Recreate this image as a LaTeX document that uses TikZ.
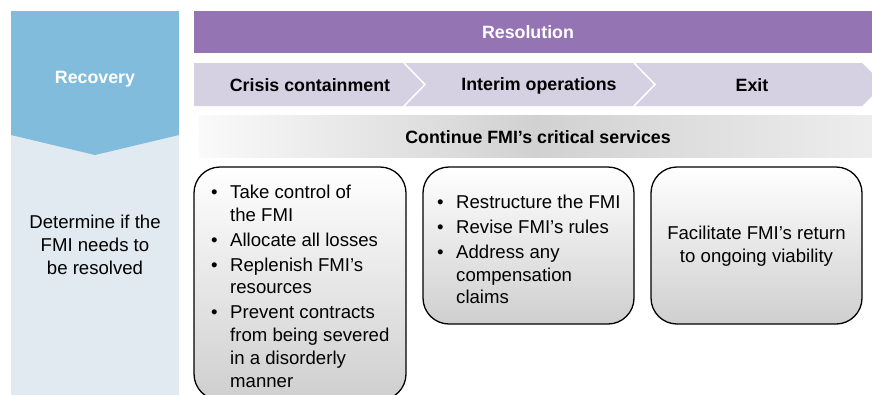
\documentclass[tikz,border=0pt]{standalone}
\usepackage{fontspec}
\setmainfont{Liberation Sans}
\definecolor{recblue}{HTML}{82BCDC}
\definecolor{reclight}{HTML}{E1EAF1}
\definecolor{respurple}{HTML}{9574B3}
\definecolor{chevfill}{HTML}{D5D1E3}
\newcommand\bitem[1]{\makebox[19pt][l]{•}#1}
\newcommand\bcont[1]{\hspace*{19pt}#1}
\begin{document}
\begin{tikzpicture}[x=1pt,y=-1pt,
  hdr/.style={font=\bfseries\fontsize{17.8}{21}\selectfont, inner sep=0pt},
  body/.style={font=\fontsize{18.6}{22.8}\selectfont, inner sep=0pt},
  rbox/.style={draw=black, line width=1.3pt, rounded corners=26pt, top color=white, bottom color=gray!38, inner sep=0pt},
  divider/.style={draw=white, line width=1.5pt}]
\useasboundingbox (0,0) rectangle (872,394);
\clip (0,0) rectangle (872,394);
% Recovery column
\fill[reclight] (11,130) rectangle (179,400);
\fill[recblue] (11,11) -- (179,11) -- (179,135) -- (95,155) -- (11,135) -- cycle;
\node[hdr, text=white] (rec) at (95,79) {Recovery};
\node[body, align=center] (det) at (95,245) {Determine if the\\FMI needs to\\be resolved};
% Resolution bar
\fill[respurple] (194,11) rectangle (880,53);
\node[hdr, text=white] (res) at (528,32) {Resolution};
% Chevron bar
\fill[chevfill] (194,63) -- (862,63) -- (883.5,84.5) -- (862,106) -- (194,106) -- cycle;
\draw[divider] (404,63) -- (425,84.5) -- (404,106);
\draw[divider] (634,63) -- (655,84.5) -- (634,106);
\node[hdr] (cc) at (310,85.5) {Crisis containment};
\node[hdr] (io) at (539,85.5) {Interim operations};
\node[hdr] (ex) at (752,85.5) {Exit};
% Continue bar
\shade[left color=gray!4, right color=gray!14, middle color=gray!36] (199,115) rectangle (872,157);
\node[hdr] (cont) at (538,137) {Continue FMI’s critical services};
% Boxes
\node[rbox, minimum width=212pt, minimum height=233pt] (b1) at (300,283.5) {};
\node[rbox, minimum width=211pt, minimum height=157pt] (b2) at (528.5,245.5) {};
\node[rbox, minimum width=211pt, minimum height=157pt] (b3) at (756.5,245.5) {};
\node[body, align=left, anchor=north west] (t1) at (211,185) {%
\bitem{Take control of}\\ \bcont{the FMI}\\[2pt]
\bitem{Allocate all losses}\\[2pt]
\bitem{Replenish FMI’s}\\ \bcont{resources}\\[2pt]
\bitem{Prevent contracts}\\ \bcont{from being severed}\\ \bcont{in a disorderly}\\ \bcont{manner}};
\node[body, align=left, anchor=north west] (t2) at (437,195) {%
\bitem{Restructure the FMI}\\[2pt]
\bitem{Revise FMI’s rules}\\[2pt]
\bitem{Address any}\\ \bcont{compensation}\\ \bcont{claims}};
\node[body, align=center] (t3) at (756.5,246.5) {Facilitate FMI’s return\\to ongoing viability};
\end{tikzpicture}
\end{document}
